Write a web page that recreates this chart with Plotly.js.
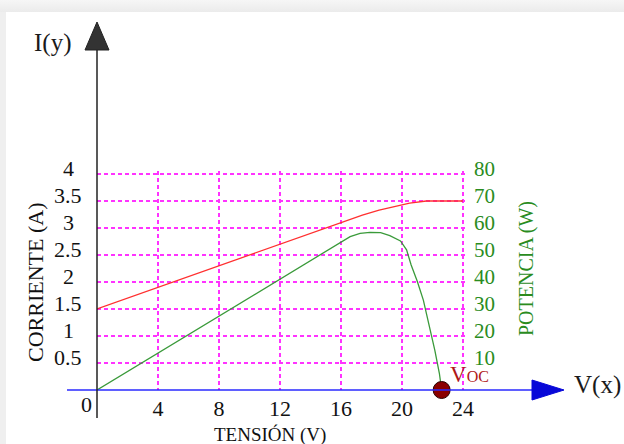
<!DOCTYPE html>
<html>
<head>
<meta charset="utf-8">
<script src="https://cdn.plot.ly/plotly-3.0.1.min.js"></script>
<style>
html,body{margin:0;padding:0;background:#fff;}
#wrap{position:relative;width:624px;height:444px;overflow:hidden;background:#fff;}
#topband{position:absolute;left:0;top:0;width:624px;height:12px;background:linear-gradient(#f6f6f6,#ebebeb);}
#leftband{position:absolute;left:0;top:12px;width:6px;height:432px;background:#efefef;}
#chart{position:absolute;left:0;top:0;width:624px;height:444px;}
</style>
</head>
<body>
<div id="wrap"><div id="topband"></div><div id="leftband"></div><div id="chart"></div></div>
<script>
// ---- data ----
const currentV = [0, 4, 8, 12, 16, 17.4, 18.5, 19.5, 20.5, 21.6, 24];
const currentI = [1.5, 1.9, 2.3, 2.7, 3.1, 3.24, 3.33, 3.4, 3.46, 3.5, 3.5];

const powerV = [0, 4, 8, 12, 13.3, 14.6, 15.9, 16.6, 17.25, 17.9, 18.6, 19.2, 19.9, 20.3, 20.6, 21.0, 21.4, 21.8, 22.15, 22.45, 22.6];
const powerP = [0, 13.7, 27.2, 40.9, 45.5, 50.0, 54.3, 56.8, 58.0, 58.4, 58.3, 57.2, 55.2, 51.9, 46.3, 40.3, 33.3, 23.5, 14.8, 6.2, 0];

const vocV = [22.6];
const vocP = [0];

const xTickVals = [0, 4, 8, 12, 16, 20, 24];
const xTickText = ['0', '4', '8', '12', '16', '20', '24'];
const iTickVals = [0.5, 1, 1.5, 2, 2.5, 3, 3.5, 4];
const iTickText = ['0.5', '1', '1.5', '2', '2.5', '3', '3.5', '4'];
const pTickVals = [10, 20, 30, 40, 50, 60, 70, 80];
const pTickText = ['10', '20', '30', '40', '50', '60', '70', '80'];

const SERIF = '"Liberation Serif", "Times New Roman", serif';
const GRID = '#ff33ff';
const GREEN_TXT = '#2a8c1e';

// plot area: V 0..24 spans x 97..463 px, I 0..4 spans y 390..174 px; area padded a little so edge grid lines show
const L = 97, W = 370, H = 219, T = 390 - H;
const XMAX = 24 * W / 366, IMAX = 4 * H / 216, PMAX = 80 * H / 216;
const px = v => (v - L) / W;
const py = v => (T + H - v) / H;

const traces = [
  {x: currentV, y: currentI, type: 'scatter', mode: 'lines', line: {color: '#ff3030', width: 1.3}, cliponaxis: false, hoverinfo: 'none'},
  {x: powerV, y: powerP, yaxis: 'y2', type: 'scatter', mode: 'lines', line: {color: '#3a9a3a', width: 1.3}, cliponaxis: false, hoverinfo: 'none'},
  {x: vocV, y: vocP, yaxis: 'y2', type: 'scatter', mode: 'markers', marker: {size: 17, color: '#8a0000', line: {color: '#2a0000', width: 1}}, cliponaxis: false, hoverinfo: 'none'}
];

const annotations = [];
iTickVals.forEach((v, i) => annotations.push({
  xref: 'paper', yref: 'y', x: px(68), y: v, yshift: 6, text: iTickText[i], showarrow: false,
  xanchor: 'center', yanchor: 'middle', font: {family: SERIF, size: 22, color: '#111'}
}));
annotations.push({xref: 'x', yref: 'paper', x: xTickVals[0], y: py(404), xshift: -11, text: xTickText[0], showarrow: false,
  xanchor: 'center', yanchor: 'middle', font: {family: SERIF, size: 22, color: '#111'}});
annotations.push({xref: 'paper', yref: 'paper', x: px(52), y: py(43), text: 'I(y)', showarrow: false,
  xanchor: 'center', yanchor: 'middle', font: {family: SERIF, size: 25, color: '#1a1a1a'}});
annotations.push({xref: 'paper', yref: 'paper', x: px(597), y: py(385), text: 'V(x)', showarrow: false,
  xanchor: 'center', yanchor: 'middle', font: {family: SERIF, size: 25, color: '#1a1a1a'}});
annotations.push({xref: 'paper', yref: 'paper', x: px(270), y: py(435), text: 'TENSIÓN (V)', showarrow: false,
  xanchor: 'center', yanchor: 'middle', font: {family: SERIF, size: 19, color: '#111'}});
annotations.push({xref: 'paper', yref: 'paper', x: px(35), y: py(283), text: 'CORRIENTE (A)', showarrow: false, textangle: -90,
  xanchor: 'center', yanchor: 'middle', font: {family: SERIF, size: 22, color: '#111'}});
annotations.push({xref: 'paper', yref: 'paper', x: px(526), y: py(269), text: 'POTENCIA (W)', showarrow: false, textangle: -90,
  xanchor: 'center', yanchor: 'middle', font: {family: SERIF, size: 20, color: GREEN_TXT}});
annotations.push({xref: 'x', yref: 'y2', x: vocV[0], y: vocP[0], xshift: 6, yshift: 1, showarrow: false,
  text: 'V<span style="font-size:16px">OC</span>', xanchor: 'left', yanchor: 'bottom',
  font: {family: SERIF, size: 23, color: '#b01818'}});

const shapes = [
  {type: 'line', xref: 'paper', yref: 'paper', x0: px(67), x1: px(534), y0: 0, y1: 0, line: {color: '#2a2aff', width: 1.5}},
  {type: 'path', xref: 'paper', yref: 'paper', path: `M ${px(532)} ${py(380)} L ${px(564)} ${py(390)} L ${px(532)} ${py(400)} Z`, fillcolor: '#0808d8', line: {color: '#0808d8', width: 1}},
  {type: 'line', xref: 'paper', yref: 'paper', x0: 0, x1: 0, y0: py(418), y1: py(50), line: {color: '#222', width: 1.5}},
  {type: 'path', xref: 'paper', yref: 'paper', path: `M ${px(85)} ${py(50)} L ${px(97)} ${py(22)} L ${px(109)} ${py(50)} Z`, fillcolor: '#333', line: {color: '#222', width: 1}}
];

const layout = {
  width: 624, height: 444,
  margin: {l: L, r: 624 - L - W, t: T, b: 444 - T - H, pad: 0},
  paper_bgcolor: 'rgba(0,0,0,0)', plot_bgcolor: 'rgba(0,0,0,0)',
  showlegend: false,
  xaxis: {range: [0, XMAX], tickvals: xTickVals, ticktext: ['', ...xTickText.slice(1)], ticks: '', showline: false, zeroline: false,
    showgrid: true, gridcolor: GRID, gridwidth: 1.5, griddash: '4px,3px', ticklabelstandoff: 3,
    tickfont: {family: SERIF, size: 22, color: '#111'}, fixedrange: true},
  yaxis: {range: [0, IMAX], tickvals: iTickVals, showticklabels: false, ticks: '', showline: false, zeroline: false,
    showgrid: true, gridcolor: GRID, gridwidth: 1.5, griddash: '4px,3px', fixedrange: true},
  yaxis2: {range: [0, PMAX], overlaying: 'y', side: 'right', tickvals: pTickVals, ticktext: pTickText, ticks: '',
    showline: false, zeroline: false, showgrid: false, ticklabelstandoff: 6, ticklabelshift: -5,
    tickfont: {family: SERIF, size: 21, color: GREEN_TXT}, fixedrange: true},
  annotations: annotations,
  shapes: shapes
};

Plotly.newPlot('chart', traces, layout, {displayModeBar: false, staticPlot: true});
</script>
</body>
</html>
